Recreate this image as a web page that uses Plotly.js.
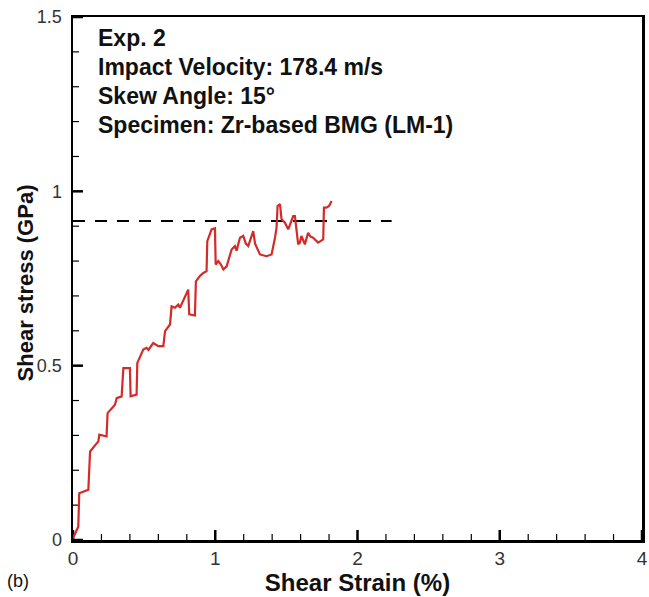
<!DOCTYPE html>
<html><head><meta charset="utf-8">
<script src="https://cdn.plot.ly/plotly-3.0.1.min.js"></script>
<style>body{margin:0;background:#fff}#c{width:649px;height:597px}</style>
</head><body><div id="c"></div>
<script>
const strain = [0,0.037,0.044,0.108,0.12,0.178,0.185,0.236,0.243,0.295,0.307,0.342,0.354,0.40,0.405,0.447,0.452,0.494,0.517,0.53,0.564,0.60,0.635,0.647,0.682,0.693,0.717,0.74,0.752,0.799,0.81,0.817,0.857,0.864,0.892,0.916,0.939,0.944,0.974,0.998,1.003,1.021,1.04,1.057,1.08,1.115,1.138,1.15,1.174,1.197,1.215,1.232,1.267,1.28,1.314,1.36,1.396,1.42,1.431,1.438,1.455,1.466,1.49,1.513,1.548,1.56,1.583,1.595,1.606,1.63,1.653,1.67,1.688,1.723,1.759,1.764,1.782,1.80,1.818];
const stress = [0.005,0.038,0.134,0.144,0.254,0.283,0.302,0.297,0.364,0.388,0.407,0.412,0.493,0.493,0.412,0.417,0.508,0.546,0.551,0.545,0.565,0.556,0.556,0.599,0.618,0.670,0.666,0.675,0.666,0.709,0.718,0.647,0.644,0.742,0.757,0.766,0.771,0.857,0.891,0.894,0.79,0.80,0.79,0.776,0.785,0.833,0.843,0.83,0.867,0.872,0.85,0.843,0.886,0.85,0.819,0.814,0.819,0.867,0.896,0.958,0.963,0.92,0.91,0.891,0.929,0.929,0.848,0.853,0.872,0.848,0.881,0.87,0.867,0.853,0.862,0.953,0.953,0.958,0.972];
const refStrain = [0, 2.24];
const refStress = [0.915, 0.915];
const xMajor = [0,1,2,3,4];
const yMajor = [0,0.5,1,1.5];
const xMinorStep = 0.2;
const yMinorStep = 0.1;
const infoLines = ['Exp. 2','Impact Velocity: 178.4 m/s','Skew Angle: 15\u00b0','Specimen: Zr-based BMG (LM-1)'];

const xRange = [0,4], yRange = [0,1.5];
const plotW = 649-73-7, plotH = 597-17-57;
const pxX = (xRange[1]-xRange[0])/plotW, pxY = (yRange[1]-yRange[0])/plotH;

function bottomTicks(vals, lenPx){ const x=[], y=[]; vals.forEach(v=>{x.push(v,v,null); y.push(yRange[0], yRange[0]+lenPx*pxY, null);}); return {x,y}; }
function leftTicks(vals, lenPx){ const x=[], y=[]; vals.forEach(v=>{y.push(v,v,null); x.push(xRange[0], xRange[0]+lenPx*pxX, null);}); return {x,y}; }
const xMinor=[], yMinor=[];
for (let i=0;i<xMajor.length-1;i++) for (let k=1;k<5;k++) xMinor.push(xMajor[i]+k*xMinorStep);
for (let i=0;i<yMajor.length-1;i++) for (let k=1;k<5;k++) yMinor.push(yMajor[i]+k*yMinorStep);

const tickTrace = (d, w) => ({x:d.x, y:d.y, mode:'lines', line:{color:'#000', width:w}, hoverinfo:'skip', connectgaps:false});
const traces = [
  tickTrace(bottomTicks(xMinor, 6), 1.2),
  tickTrace(leftTicks(yMinor, 6), 1.2),
  tickTrace(bottomTicks(xMajor, 10), 2.5),
  tickTrace(leftTicks(yMajor, 10), 2.5),
  {x: refStrain, y: refStress, mode:'lines', line:{color:'#000', width:2, dash:'12px,10px'}, hoverinfo:'skip'},
  {x: strain, y: stress, mode:'lines', line:{color:'#d42a2a', width:2.2}}
];
const font = 'Liberation Sans, Arial, sans-serif';
const annotations = infoLines.map((t,i)=>({
  text:'<b>'+t+'</b>', xref:'paper', yref:'paper', x:0.041, y:1 - (21 + i*29)/523, xanchor:'left', yanchor:'middle',
  showarrow:false, font:{family:font, size:23, color:'#111'}
}));
annotations.push({text:'(b)', xref:'paper', yref:'paper', x:-0.119, y:-0.078, xanchor:'left', yanchor:'middle', showarrow:false, font:{family:font, size:18, color:'#111'}});
annotations.push({text:'<b>Shear stress (GPa)</b>', xref:'paper', yref:'paper', x:-0.084, y:0.491, textangle:-90, xanchor:'center', yanchor:'middle', showarrow:false, font:{family:font, size:22, color:'#111'}});

const layout = {
  width:649, height:597, margin:{l:73, r:7, t:17, b:57},
  paper_bgcolor:'#fff', plot_bgcolor:'#fff', showlegend:false,
  font:{family:font, color:'#222'},
  xaxis:{range:xRange, tickmode:'array', tickvals:xMajor, ticks:'',
    showline:true, linecolor:'#000', linewidth:2.5, mirror:true, showgrid:false, zeroline:false,
    tickfont:{size:19, color:'#333'},
    title:{text:'<b>Shear Strain (%)</b>', font:{size:24, color:'#111'}, standoff:6}},
  yaxis:{range:yRange, tickmode:'array', tickvals:yMajor, ticks:'',
    showline:true, linecolor:'#000', linewidth:2.5, mirror:true, showgrid:false, zeroline:false,
    tickfont:{size:18, color:'#333'}, ticklabelstandoff:5},
  annotations: annotations
};
Plotly.newPlot('c', traces, layout, {staticPlot:true});
</script></body></html>
